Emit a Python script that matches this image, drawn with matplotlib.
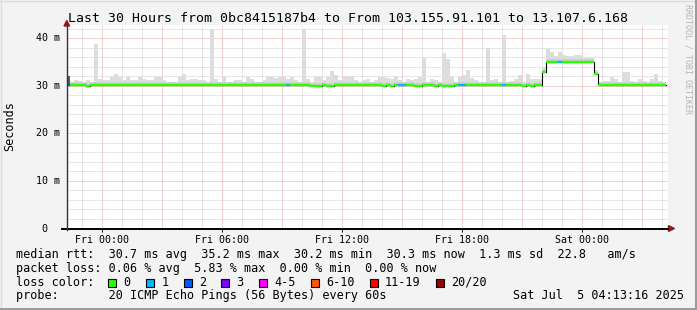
import numpy as np
import matplotlib
matplotlib.use('Agg')
import matplotlib.pyplot as plt
from matplotlib.patches import Rectangle, Polygon
from matplotlib.lines import Line2D
from matplotlib import transforms

plt.rcParams['font.family'] = ['DejaVu Sans Mono']

# ---- data ----
title = "Last 30 Hours from 0bc8415187b4 to From 103.155.91.101 to 13.107.6.168"
step_h = 0.2            # one rrd row = 12 minutes
t_first = -1.785        # start of first row, hours relative to Fri 00:00

# top of the smoke (ms) per row
smoke_max = [
    32.1, 30.84, 31.26, 31.05, 30.84, 31.26, 30.84, 38.8, 31.4, 31.26,
    31.26, 31.82, 32.5, 31.82, 31.26, 31.82, 31.26, 31.26, 31.82, 31.4,
    31.26, 31.26, 31.82, 31.82, 31.26, 30.84, 30.84, 30.84, 31.82, 32.55,
    31.26, 31.47, 31.47, 31.26, 31.26, 30.84, 42.1, 31.4, 30.84, 31.82,
    30.84, 30.84, 31.26, 31.26, 30.84, 31.82, 31.4, 30.84, 30.84, 31.26,
    32.0, 31.82, 31.75, 31.82, 31.96, 31.4, 31.82, 31.26, 30.84, 42.1,
    31.4, 30.84, 31.82, 31.82, 31.26, 31.82, 33.2, 32.4, 31.26, 32.1,
    32.1, 32.1, 31.26, 30.84, 31.26, 31.4, 30.84, 31.26, 31.96, 31.96,
    31.6, 31.4, 32.1, 31.26, 30.84, 31.54, 31.26, 31.4, 31.96, 35.8,
    30.84, 31.54, 31.26, 30.84, 36.9, 35.7, 31.96, 30.84, 31.96, 32.3,
    33.4, 31.6, 31.26, 30.84, 30.84, 37.9, 31.26, 31.54, 30.84, 40.7,
    30.84, 31.1, 31.54, 32.3, 30.84, 32.6, 31.54, 31.54, 31.54, 34.1,
    37.7, 37.1, 36.3, 37.1, 36.6, 36.3, 36.3, 36.5, 36.6, 35.8,
    35.8, 35.8, 33.3, 30.84, 31.05, 31.05, 31.82, 31.54, 30.84, 32.9,
    32.9, 31.05, 30.84, 31.54, 31.05, 30.84, 31.54, 32.5, 31.05, 30.84,
]

# median rtt (ms) per row
median = [
    30.3, 30.3, 30.3, 30.3, 30.3, 30.1, 30.3, 30.3, 30.3, 30.3,
    30.3, 30.3, 30.3, 30.3, 30.3, 30.3, 30.3, 30.3, 30.3, 30.3,
    30.3, 30.3, 30.3, 30.3, 30.3, 30.3, 30.3, 30.3, 30.3, 30.3,
    30.3, 30.3, 30.3, 30.3, 30.3, 30.3, 30.3, 30.3, 30.3, 30.3,
    30.3, 30.3, 30.3, 30.3, 30.3, 30.3, 30.3, 30.3, 30.3, 30.3,
    30.3, 30.3, 30.3, 30.3, 30.3, 30.3, 30.3, 30.3, 30.3, 30.3,
    30.3, 30.1, 30.1, 30.1, 30.3, 30.1, 30.1, 30.3, 30.3, 30.3,
    30.3, 30.3, 30.3, 30.3, 30.3, 30.3, 30.3, 30.3, 30.3, 30.1,
    30.3, 30.1, 30.3, 30.3, 30.3, 30.3, 30.3, 30.1, 30.1, 30.3,
    30.3, 30.3, 30.1, 30.3, 30.1, 30.1, 30.1, 30.3, 30.3, 30.3,
    30.3, 30.3, 30.3, 30.3, 30.3, 30.3, 30.3, 30.3, 30.3, 30.3,
    30.3, 30.3, 30.3, 30.3, 30.1, 30.3, 30.1, 30.3, 30.3, 32.9,
    35.1, 35.1, 35.1, 35.1, 35.1, 35.1, 35.1, 35.1, 35.1, 35.1,
    35.1, 35.1, 32.5, 30.3, 30.3, 30.3, 30.3, 30.3, 30.3, 30.3,
    30.3, 30.3, 30.3, 30.3, 30.3, 30.3, 30.3, 30.3, 30.3, 30.3,
]

# lost pings per row (out of 20)
loss = [
    2, 0, 0, 0, 0, 0, 0, 0, 0, 0,
    0, 0, 0, 0, 0, 0, 0, 0, 0, 0,
    0, 0, 0, 0, 0, 0, 0, 0, 0, 0,
    0, 0, 0, 0, 0, 0, 0, 0, 0, 0,
    0, 0, 0, 0, 0, 0, 0, 0, 0, 0,
    0, 0, 0, 0, 0, 1, 0, 0, 0, 0,
    0, 0, 0, 0, 0, 0, 0, 0, 0, 0,
    0, 0, 0, 0, 0, 0, 0, 0, 0, 0,
    0, 0, 0, 1, 1, 0, 0, 0, 0, 0,
    0, 0, 0, 0, 0, 0, 0, 0, 1, 1,
    0, 0, 0, 0, 0, 0, 0, 0, 0, 1,
    0, 0, 0, 0, 0, 0, 0, 0, 0, 0,
    0, 0, 0, 1, 0, 0, 0, 0, 0, 0,
    0, 0, 0, 0, 0, 0, 0, 0, 0, 0,
    0, 0, 0, 0, 0, 0, 0, 0, 0, 0,
]

loss_labels = ['0', '1', '2', '3', '4-5', '6-10', '11-19', '20/20']
loss_colors = ['#26ff00', '#00b8ff', '#0059ff', '#7e00ff',
               '#ff00ff', '#ff5500', '#ff0000', '#a10000']

rtt_stats = [30.7, 35.2, 30.2, 30.3]      # avg max min now
rtt_sd = 1.3
rtt_ams = 22.8
loss_stats = [0.06, 5.83, 0.00, 0.00]     # avg max min now
probe = "20 ICMP Echo Pings (56 Bytes) every 60s"
stamp = "Sat Jul  5 04:13:16 2025"

xtick_hours = [0, 6, 12, 18, 24]
xtick_labels = ['Fri 00:00', 'Fri 06:00', 'Fri 12:00', 'Fri 18:00', 'Sat 00:00']
ytick_vals = [0, 10, 20, 30, 40]
ytick_labels = [' 0', '10 m', '20 m', '30 m', '40 m']

# ---- figure ----
W, H = 697, 310
fig = plt.figure(figsize=(W / 100, H / 100), dpi=100, facecolor='#f3f3f3')
px = transforms.IdentityTransform()


def P(x, y):
    return (x, H - y)


# frame shading
fig.add_artist(Line2D([0, W], [H - 0.5, H - 0.5], color='#dcdcdc', lw=1, transform=px))
fig.add_artist(Line2D([0.5, 0.5], [0, H], color='#dcdcdc', lw=1, transform=px))
fig.add_artist(Line2D([0, W], [1.5, 1.5], color='#9c9c9c', lw=2.2, transform=px))
fig.add_artist(Line2D([W - 1.5, W - 1.5], [0, H], color='#9c9c9c', lw=2.2, transform=px))

ax = fig.add_axes([67 / W, 1 - 228.5 / H, 601 / W, 203.5 / H])
ax.set_facecolor('white')
ax.set_xlim(-1.735, 28.315)
ax.set_ylim(0, 42.84)
for s in ax.spines.values():
    s.set_visible(False)

# grid
for h in range(-1, 29):
    c = '#eaa0a0' if h % 3 == 0 else '#cfcfcf'
    ax.axvline(h, color=c, lw=0.72, ls=(0, (1, 1)), zorder=0.5)
for v in range(2, 43, 2):
    c = '#eaa0a0' if v % 10 == 0 else '#cfcfcf'
    ax.axhline(v, color=c, lw=0.72, ls=(0, (1, 1)), zorder=0.5)

n = len(median)
t = t_first + step_h * np.arange(n)
med = np.array(median)
smax = np.array(smoke_max)
base = med - 0.15
inner = np.minimum(smax, med + 0.55)

smoke_cols = ['#5a5a5a'] + ['#dddddd'] * (n - 1)
inner_cols = ['#5a5a5a'] + ['#cfcfcf'] * (n - 1)
ax.bar(t, smax - base, bottom=base, width=step_h, align='edge',
       color=smoke_cols, linewidth=0, zorder=2)
ax.bar(t, inner - base, bottom=base, width=step_h, align='edge',
       color=inner_cols, linewidth=0, zorder=2.1)

edges = np.append(t, t[-1] + step_h)
ax.step(edges, np.append(med, med[-1]), where='post', color='black', lw=0.8, zorder=3)
ax.hlines(med, t, t + step_h, colors=[loss_colors[l] for l in loss], lw=1.7, zorder=4)

ax.set_xticks(xtick_hours, xtick_labels)
ax.set_yticks([])
ax.tick_params(axis='x', length=2, width=0.72, color='black', pad=2.5, labelsize=7.2)

yt = transforms.blended_transform_factory(px, ax.transData)
for v, lab in zip(ytick_vals, ytick_labels):
    ax.text(36, v, lab, transform=yt, ha='left', va='center', fontsize=7.2, clip_on=False)

# axes lines and arrows
fig.add_artist(Line2D([62, 668], [H - 228.5] * 2, color='black', lw=1.4, transform=px))
fig.add_artist(Line2D([66.8, 66.8], [H - 230, H - 25], color='#333333', lw=1.0, transform=px))
fig.add_artist(Polygon([P(64.0, 26), P(69.6, 26), P(66.8, 20.5)], closed=True,
                       color='#8b1c1c', transform=px))
fig.add_artist(Polygon([P(668.5, 225.6), P(668.5, 231.4), P(674.5, 228.5)], closed=True,
                       color='#8b1c1c', transform=px))

# texts
fig.text(*P(347.5, 18.5), title, transform=px, ha='center', va='center', fontsize=9.5)
fig.text(*P(10, 126), 'Seconds', transform=px, ha='center', va='center',
         rotation=90, fontsize=8.5)
fig.text(*P(688, 59), 'RRDTOOL / TOBI OETIKER', transform=px, ha='center', va='center',
         rotation=270, fontsize=6, color='#b4b4b4')

lx = 16
fs = 8.5
cw = 7.09
rtt_line = ("median rtt:  {:.1f} ms avg  {:.1f} ms max  {:.1f} ms min  {:.1f} ms now"
            "  {:.1f} ms sd  {:.1f}   am/s").format(*rtt_stats, rtt_sd, rtt_ams)
loss_line = "packet loss: {:.2f} % avg  {:.2f} % max  {:.2f} % min  {:.2f} % now".format(*loss_stats)
fig.text(*P(lx, 258.3), rtt_line, transform=px, ha='left', va='baseline', fontsize=fs)
fig.text(*P(lx, 272.0), loss_line, transform=px, ha='left', va='baseline', fontsize=fs)
fig.text(*P(lx, 285.6), 'loss color:', transform=px, ha='left', va='baseline', fontsize=fs)
fig.text(*P(lx, 299.2), 'probe:       ' + probe, transform=px, ha='left', va='baseline', fontsize=fs)
fig.text(*P(513.3, 299.2), stamp, transform=px, ha='left', va='baseline', fontsize=fs)

bx = lx + 13 * cw
for lab, col in zip(loss_labels, loss_colors):
    fig.add_artist(Rectangle(P(bx, 286.5), 8, 8, facecolor=col, edgecolor='black',
                             lw=0.8, transform=px))
    tx = bx + 15.3
    fig.text(*P(tx, 285.6), lab, transform=px, ha='left', va='baseline', fontsize=fs)
    bx = tx + len(lab) * cw + 15.3

fig.savefig('out.png', dpi=100, facecolor=fig.get_facecolor())
